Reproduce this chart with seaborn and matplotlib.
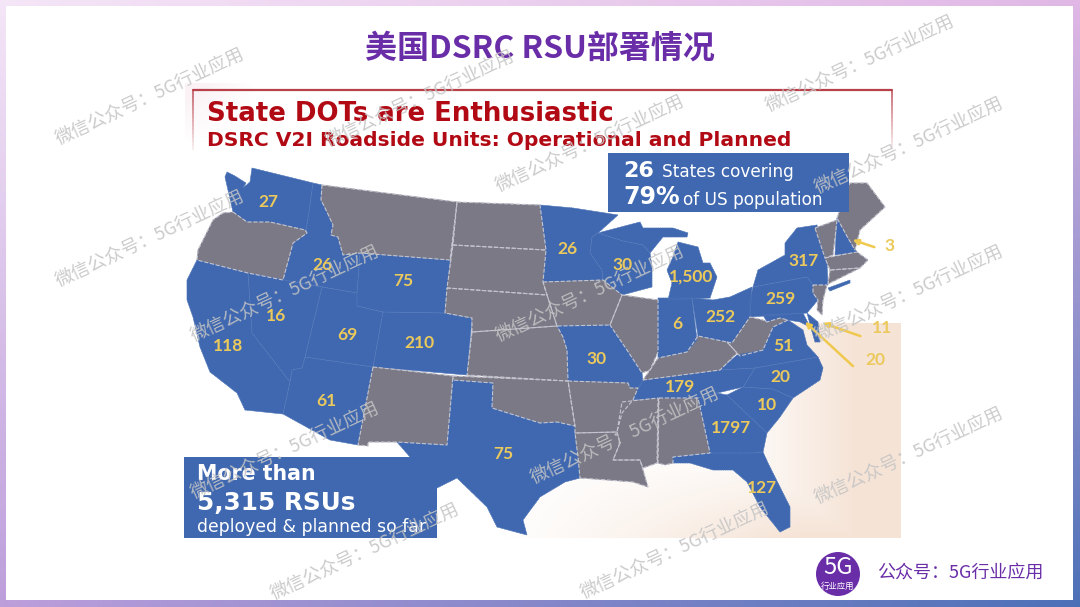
import matplotlib.pyplot as plt
import seaborn as sns
import numpy as np
import pandas as pd
from matplotlib.patches import Rectangle, Circle

# state values (None = grey, no RSUs)
state_values = {
    "WA": "27", "ID": "26", "WY": "75", "NV": "16", "CA": "118", "UT": "69", "CO": "210",
    "AZ": "61", "TX": "75", "MN": "26", "WI": "30", "MI": "1,500", "NY": "317", "PA": "259",
    "NH": "3", "IN": "6", "OH": "252", "MO": "30", "VA": "51", "NC": "20", "SC": "10",
    "TN": "179", "GA": "1797", "FL": "127", "MD": "11", "DE": "20",
}

# outlines, in picture pixels
state_outlines = {
    "WA": [(225,177),(227,172),(235,176),(246,183),(243,188),(250,182),(252,168),(313,183),(310,205),(306,230),(305,230),(270,222),(247,222),(233,212)],
    "ID": [(313,183),(322,185),(321,200),(327,212),(333,225),(331,235),(338,237),(343,255),(360,253),(357,293),(283,280),(293,243),(307,233),(306,230),(310,205)],
    "OR": [(233,212),(247,222),(270,222),(305,230),(307,233),(293,243),(283,280),(248,273),(197,260),(198,250),(213,220),(223,213)],
    "CA": [(197,260),(248,273),(252,333),(290,382),(283,414),(245,410),(237,393),(210,372),(200,347),(193,317),(187,300),(187,280)],
    "NV": [(248,273),(322,287),(305,357),(302,368),(292,370),(290,382),(252,333)],
    "UT": [(322,287),(357,293),(357,306),(383,312),(373,367),(305,357)],
    "AZ": [(305,357),(373,367),(358,445),(330,440),(283,414),(290,382),(292,370),(302,368)],
    "WY": [(360,253),(450,260),(445,313),(383,312),(357,306),(357,293)],
    "CO": [(383,312),(445,313),(472,318),(467,375),(373,367)],
    "MT": [(322,185),(457,202),(450,260),(360,253),(343,255),(338,237),(331,235),(333,225),(327,212),(321,200)],
    "ND": [(457,202),(540,205),(546,250),(453,245)],
    "SD": [(453,245),(546,250),(543,282),(547,295),(447,288)],
    "NE": [(447,288),(547,295),(557,326),(472,332),(472,318),(445,313)],
    "KS": [(472,332),(557,326),(563,337),(567,350),(568,381),(467,375)],
    "OK": [(453,376),(568,381),(575,426),(557,422),(540,423),(492,408),(493,383),(453,380)],
    "NM": [(373,367),(453,376),(447,445),(397,442),(368,442),(368,446),(358,445)],
    "TX": [(453,380),(493,383),(492,408),(540,423),(557,422),(575,426),(575,433),(578,457),(580,478),(565,482),(540,497),(523,520),(527,535),(497,527),(487,507),(457,478),(437,488),(410,457),(397,442),(447,445)],
    "MN": [(540,205),(573,208),(618,215),(598,233),(592,237),(590,253),(602,270),(603,280),(543,282),(546,250)],
    "WI": [(598,233),(623,241),(643,245),(650,253),(652,267),(652,287),(622,295),(603,280),(602,270),(590,253),(592,237)],
    "MI": [(640,222),(643,228),(673,228),(688,233),(687,237),(663,237),(650,253),(643,245),(623,241),(598,233)],
    "MI2": [(678,242),(698,247),(703,263),(710,263),(717,277),(710,298),(668,300),(672,283),(667,270),(673,257)],
    "IA": [(543,282),(603,280),(622,295),(618,305),(610,325),(557,326),(547,295)],
    "IL": [(622,295),(658,300),(658,352),(650,370),(642,373),(627,350),(610,325),(618,305)],
    "MO": [(557,326),(610,325),(627,350),(642,373),(643,382),(638,388),(630,388),(628,383),(568,381),(567,350),(563,337)],
    "AR": [(568,381),(628,383),(630,388),(638,388),(633,400),(622,413),(617,432),(575,433),(575,426)],
    "LA": [(575,433),(617,432),(620,443),(613,460),(640,460),(643,470),(648,487),(633,482),(607,480),(580,478),(578,457)],
    "MS": [(622,402),(658,398),(657,463),(643,468),(640,460),(613,460),(620,443),(617,432)],
    "AL": [(659,398),(698,398),(710,453),(673,457),(673,463),(665,465),(658,463)],
    "TN": [(633,400),(638,388),(643,380),(720,370),(755,368),(743,387),(717,393),(698,398),(659,398)],
    "KY": [(643,380),(650,370),(658,358),(687,352),(698,336),(727,342),(737,353),(720,370)],
    "IN": [(658,298),(692,298),(697,340),(687,352),(658,358)],
    "OH": [(692,298),(713,300),(730,297),(752,287),(750,317),(732,343),(727,342),(698,336)],
    "WV": [(727,342),(732,343),(750,317),(763,320),(767,322),(780,318),(788,320),(773,327),(763,350),(740,356),(737,353)],
    "VA": [(720,370),(737,355),(763,350),(773,327),(788,320),(803,330),(807,345),(818,357),(755,368)],
    "NC": [(755,368),(818,357),(823,368),(820,380),(793,398),(773,389),(743,387)],
    "SC": [(743,387),(773,389),(793,398),(780,417),(767,433),(727,395)],
    "GA": [(717,393),(727,395),(767,433),(763,452),(753,453),(710,453),(698,398)],
    "FL": [(673,457),(710,453),(753,453),(763,452),(768,463),(790,507),(790,527),(780,532),(760,507),(747,482),(733,470),(713,470),(690,463),(673,463)],
    "PA": [(753,287),(807,277),(813,285),(813,293),(818,300),(807,313),(750,317),(750,300)],
    "NY": [(753,287),(758,270),(785,255),(785,243),(797,228),(817,225),(827,263),(828,285),(813,285),(807,277)],
    "NY2": [(828,288),(850,280),(850,283),(830,291)],
    "NJ": [(813,285),(827,285),(823,300),(822,315),(817,310),(818,300),(813,293)],
    "MD": [(767,322),(763,315),(803,313),(810,327),(800,322),(788,320),(780,318)],
    "DE": [(807,313),(818,322),(820,342),(815,342),(811,328)],
    "VT": [(815,228),(837,220),(833,255),(825,258)],
    "NH": [(837,218),(848,238),(857,252),(835,255)],
    "ME": [(837,218),(850,183),(867,183),(885,207),(860,230),(855,250),(848,238)],
    "MA": [(825,258),(857,252),(868,260),(860,268),(830,270)],
    "CT": [(830,270),(860,268),(828,284)],
}

label_positions = {
    "WA": (268,202), "ID": (322,265), "WY": (403,281), "NV": (276,316), "CA": (228,346),
    "UT": (347,335), "CO": (419,343), "AZ": (326,401), "TX": (503,454), "MN": (567,249),
    "WI": (623,265), "MI": (691,277), "NY": (804,261), "PA": (780,299), "NH": (890,246),
    "IN": (677,324), "OH": (720,317), "MO": (597,359), "VA": (783,346), "NC": (780,377),
    "SC": (767,405), "TN": (680,387), "GA": (731,428), "FL": (762,488), "MD": (882,328),
    "DE": (875,360),
}

# arrow tail, arrow head for the states labelled off the map
callouts = [((877,248),(850,239)), ((863,337),(820,322)), ((855,368),(803,320))]

watermark_centres = [(150,98),(420,100),(590,145),(860,65),(909,147),(150,240),(285,295),
                     (590,295),(909,295),(285,452),(625,437),(909,457),(365,553),(675,552)]

BLUE = "#3f68b0"
GREY = "#7b7986"
YELLOW = "#ebc95c"
RED = "#b20a14"
PURPLE = "#6a2da8"

sns.set_theme(style="white")
plt.rcParams['font.family'] = ['Noto Sans CJK SC', 'DejaVu Sans']

fig = plt.figure(figsize=(10.8, 6.07), dpi=100)
ax = fig.add_axes([0, 0, 1, 1])

# slide frame gradient
xx, yy = np.meshgrid(np.linspace(0, 1, 200), np.linspace(0, 1, 120))
tl, tr = np.array([.96, .90, .97]), np.array([.88, .72, .90])
bl, br = np.array([.74, .62, .86]), np.array([.30, .44, .72])
frame = ((1-xx)*(1-yy))[..., None]*tl + (xx*(1-yy))[..., None]*tr + ((1-xx)*yy)[..., None]*bl + (xx*yy)[..., None]*br
ax.imshow(frame, extent=(0, 1080, 607, 0), aspect="auto", zorder=0)
ax.add_patch(Rectangle((6, 6), 1067, 594, color="white", zorder=1, lw=0))

# peach wash behind the map
px, py = np.meshgrid(np.arange(185, 901), np.arange(323, 538))
wash = np.zeros(px.shape + (4,))
wash[..., :3] = np.array([245, 226, 212]) / 255
side = (px - 730) / 130
low = (py - 440) / 100 * np.clip((px - 500) / 300, 0, 1)
wash[..., 3] = np.clip(np.maximum(side, low), 0, 0.95)
ax.imshow(wash, extent=(185, 901, 538, 323), aspect="auto", zorder=1.5)

# pale pink haze at the top left corner of the inner picture
haze = np.zeros((60, 70, 4))
haze[..., :3] = np.array([246, 230, 234]) / 255
hx, hy = np.meshgrid(np.linspace(1, 0, 70), np.linspace(1, 0, 60))
haze[..., 3] = np.clip(hx * hy * 0.7, 0, 0.5)
ax.imshow(haze, extent=(185, 255, 143, 83), aspect="auto", zorder=1.5)

# red frame of the inner heading, fading on its way down
ax.plot([193, 892], [90, 90], color="#b8404a", lw=1.6, zorder=2)
for y0 in range(90, 150, 4):
    fade = 1 - (y0 - 90) / 64
    ax.plot([193, 193], [y0, y0 + 4], color="#b8404a", alpha=fade * 0.8, lw=1.3, zorder=2, solid_capstyle="butt")
    ax.plot([892, 892], [y0, y0 + 4], color="#b8404a", alpha=fade * 0.8, lw=1.3, zorder=2, solid_capstyle="butt")

for state, outline in state_outlines.items():
    xs, ys = zip(*outline)
    color = BLUE if state.rstrip("2") in state_values else GREY
    ax.fill(xs, ys, color=color, lw=0.3, zorder=3)

rows = []
for state, outline in state_outlines.items():
    for x, y in outline + outline[:1]:
        rows.append({"state": state, "x": x, "y": y, "on": state.rstrip("2") in state_values})
borders = pd.DataFrame(rows)

sns.lineplot(data=borders[borders.on], x="x", y="y", units="state", estimator=None, sort=False,
             color="#5f82c0", lw=0.5, linestyle=":", ax=ax, zorder=4)
sns.lineplot(data=borders[~borders.on], x="x", y="y", units="state", estimator=None, sort=False,
             color="#c4c4ce", lw=0.8, linestyle="--", ax=ax, zorder=5)
ax.set_xlim(0, 1080)
ax.set_ylim(607, 0)
ax.axis("off")

for state, value in state_values.items():
    x, y = label_positions[state]
    ax.text(x, y, value, color=YELLOW, fontsize=12.5, fontweight="bold", family="Lato",
            ha="center", va="center", zorder=6)

for tail, head in callouts:
    ax.annotate("", xy=head, xytext=tail, zorder=6,
                arrowprops=dict(arrowstyle="-|>", color="#efc84e", lw=1.8, mutation_scale=8))

# inner heading
ax.text(207, 114, "State DOTs are Enthusiastic", color=RED, fontsize=18.7, fontweight="bold",
        family="DejaVu Sans", ha="left", va="center", zorder=6)
ax.text(207, 141, "DSRC V2I Roadside Units: Operational and Planned", color=RED, fontsize=14.6,
        fontweight="bold", family="DejaVu Sans", ha="left", va="center", zorder=6)

# callout boxes
ax.add_patch(Rectangle((608, 153), 241, 59, color=BLUE, lw=0, zorder=6))
ax.text(623, 171, "26", color="white", fontsize=16, fontweight="bold", family="DejaVu Sans", va="center", zorder=7)
ax.text(662, 172, "States covering", color="white", fontsize=12.2, family="DejaVu Sans", va="center", zorder=7)
ax.text(623, 197, "79%", color="white", fontsize=17, fontweight="bold", family="DejaVu Sans", va="center", zorder=7)
ax.text(683, 200, "of US population", color="white", fontsize=12.2, family="DejaVu Sans", va="center", zorder=7)

ax.add_patch(Rectangle((184, 457), 253, 81, color=BLUE, lw=0, zorder=6))
ax.text(197, 474, "More than", color="white", fontsize=14.8, fontweight="bold", family="DejaVu Sans", va="center", zorder=7)
ax.text(197, 503, "5,315 RSUs", color="white", fontsize=17.8, fontweight="bold", family="DejaVu Sans", va="center", zorder=7)
ax.text(197, 527, "deployed & planned so far", color="white", fontsize=12.4, family="DejaVu Sans", va="center", zorder=7)

# slide title and footer logo
ax.text(540, 49, "美国DSRC RSU部署情况", color=PURPLE, fontsize=23, fontweight="bold",
        ha="center", va="center", zorder=8)
ax.add_patch(Circle((838, 574), 22, color=PURPLE, lw=0, zorder=8))
ax.text(838, 568, "5G", color="white", fontsize=17, ha="center", va="center", zorder=9)
ax.text(838, 586, "行业应用", color="white", fontsize=6, ha="center", va="center", zorder=9)
ax.text(877, 573, "公众号：5G行业应用", color=PURPLE, fontsize=13, ha="left", va="center", zorder=8)

for x, y in watermark_centres:
    ax.text(x, y, "微信公众号：5G行业应用", color="#c4c4c4", alpha=0.88, fontsize=13.2,
            rotation=25, rotation_mode="anchor", ha="center", va="center", zorder=10)

fig.savefig("out.png", dpi=100)
